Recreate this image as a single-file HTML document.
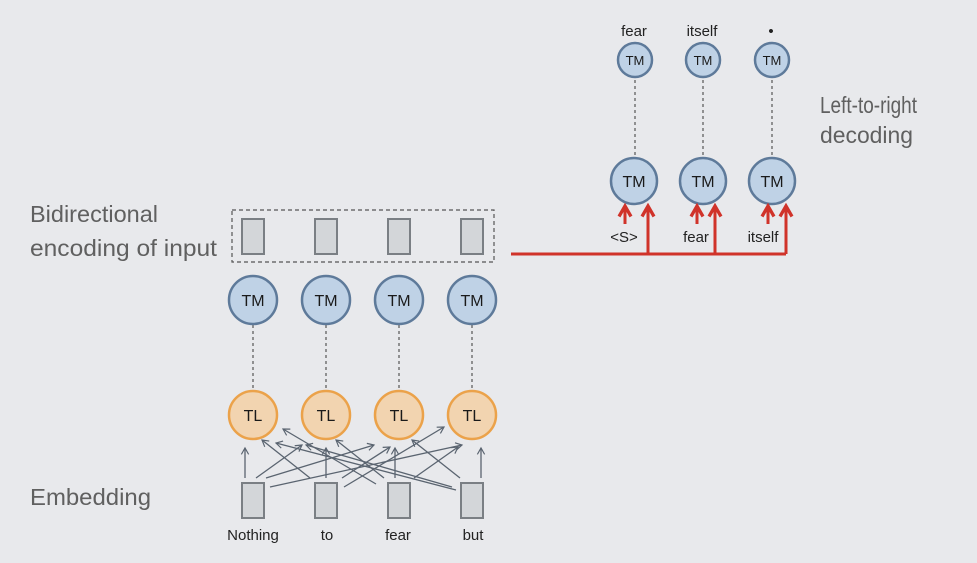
<!DOCTYPE html>
<html><head><meta charset="utf-8"><style>
html,body{margin:0;padding:0;background:#e8e9ec;}
svg{display:block;font-family:"Liberation Sans",sans-serif;}
</style></head><body>
<svg width="977" height="563" viewBox="0 0 977 563" xmlns="http://www.w3.org/2000/svg">
<defs>
<marker id="ag" viewBox="0 0 10 10" refX="8" refY="5" markerWidth="7" markerHeight="7" orient="auto-start-reverse">
<path d="M1,1 L8,5 L1,9" fill="none" stroke="#5a6470" stroke-width="1.3"/></marker>
<marker id="ar" viewBox="0 0 10 10" refX="8" refY="5" markerWidth="5" markerHeight="5" orient="auto-start-reverse">
<path d="M1,1 L8,5 L1,9" fill="none" stroke="#d0332a" stroke-width="2.2"/></marker>
</defs>
<rect width="977" height="563" fill="#e8e9ec"/>
<g font-size="23" fill="#606060">
<text x="30" y="222" textLength="128" lengthAdjust="spacingAndGlyphs">Bidirectional</text>
<text x="30" y="256" textLength="187" lengthAdjust="spacingAndGlyphs">encoding of input</text>
<text x="30" y="505" textLength="121" lengthAdjust="spacingAndGlyphs">Embedding</text>
<text x="820" y="113" textLength="97" lengthAdjust="spacingAndGlyphs">Left-to-right</text>
<text x="820" y="143" textLength="93" lengthAdjust="spacingAndGlyphs">decoding</text>
</g>
<rect x="232" y="210" width="262" height="52" fill="none" stroke="#555" stroke-width="1.2" stroke-dasharray="4,3"/>
<g fill="#d3d6d9" stroke="#7a7f84" stroke-width="2">
<rect x="242" y="219" width="22" height="35"/><rect x="315" y="219" width="22" height="35"/>
<rect x="388" y="219" width="22" height="35"/><rect x="461" y="219" width="22" height="35"/>
<rect x="242" y="483" width="22" height="35"/><rect x="315" y="483" width="22" height="35"/>
<rect x="388" y="483" width="22" height="35"/><rect x="461" y="483" width="22" height="35"/>
</g>
<g stroke="#555" stroke-width="1.2" stroke-dasharray="3,3">
<line x1="253" y1="325" x2="253" y2="390"/><line x1="326" y1="325" x2="326" y2="390"/>
<line x1="399" y1="325" x2="399" y2="390"/><line x1="472" y1="325" x2="472" y2="390"/>
<line x1="635" y1="80" x2="635" y2="155"/><line x1="703" y1="80" x2="703" y2="155"/><line x1="772" y1="80" x2="772" y2="155"/>
</g>
<g fill="#bfd2e6" stroke="#5e7a9a" stroke-width="2.5">
<circle cx="253" cy="300" r="24"/><circle cx="326" cy="300" r="24"/><circle cx="399" cy="300" r="24"/><circle cx="472" cy="300" r="24"/>
<circle cx="634" cy="181" r="23"/><circle cx="703" cy="181" r="23"/><circle cx="772" cy="181" r="23"/>
<circle cx="635" cy="60" r="17"/><circle cx="703" cy="60" r="17"/><circle cx="772" cy="60" r="17"/>
</g>
<g fill="#f2d4b0" stroke="#eba24a" stroke-width="2.5">
<circle cx="253" cy="415" r="24"/><circle cx="326" cy="415" r="24"/><circle cx="399" cy="415" r="24"/><circle cx="472" cy="415" r="24"/>
</g>
<g font-size="16" fill="#1a1a1a" text-anchor="middle">
<text x="253" y="306">TM</text><text x="326" y="306">TM</text><text x="399" y="306">TM</text><text x="472" y="306">TM</text>
<text x="634" y="187">TM</text><text x="703" y="187">TM</text><text x="772" y="187">TM</text>
<text x="253" y="421">TL</text><text x="326" y="421">TL</text><text x="399" y="421">TL</text><text x="472" y="421">TL</text>
</g>
<g font-size="13" fill="#1a1a1a" text-anchor="middle">
<text x="635" y="65">TM</text><text x="703" y="65">TM</text><text x="772" y="65">TM</text>
</g>
<g font-size="15" fill="#222" text-anchor="middle">
<text x="253" y="540">Nothing</text><text x="327" y="540">to</text><text x="398" y="540">fear</text><text x="473" y="540">but</text>
<text x="634" y="36">fear</text><text x="702" y="36">itself</text><text x="771" y="36">•</text>
<text x="624" y="242">&lt;S&gt;</text><text x="696" y="242">fear</text><text x="763" y="242">itself</text>
</g>
<g stroke="#5a6470" stroke-width="1.3" fill="none" marker-end="url(#ag)">
<line x1="245" y1="478" x2="245" y2="448"/><line x1="326" y1="478" x2="326" y2="448"/>
<line x1="395" y1="478" x2="395" y2="448"/><line x1="481" y1="478" x2="481" y2="448"/>
<line x1="256" y1="478" x2="302" y2="445"/><line x1="266" y1="478" x2="374" y2="445"/><line x1="270" y1="487" x2="462" y2="445"/>
<line x1="310" y1="478" x2="262" y2="440"/><line x1="342" y1="478" x2="390" y2="447"/><line x1="344" y1="487" x2="444" y2="427"/>
<line x1="384" y1="478" x2="336" y2="440"/><line x1="376" y1="484" x2="283" y2="429"/><line x1="414" y1="478" x2="458" y2="447"/>
<line x1="460" y1="478" x2="412" y2="440"/><line x1="452" y1="487" x2="306" y2="445"/><line x1="456" y1="490" x2="276" y2="443"/>
</g>
<g stroke="#d0332a" stroke-width="3" fill="none">
<polyline points="511,254 786,254"/>
<line x1="648" y1="254" x2="648" y2="206" marker-end="url(#ar)"/>
<line x1="715" y1="254" x2="715" y2="206" marker-end="url(#ar)"/>
<line x1="786" y1="254" x2="786" y2="206" marker-end="url(#ar)"/>
<line x1="625" y1="224" x2="625" y2="206" marker-end="url(#ar)"/>
<line x1="697" y1="224" x2="697" y2="206" marker-end="url(#ar)"/>
<line x1="768" y1="224" x2="768" y2="206" marker-end="url(#ar)"/>
</g>
</svg>
</body></html>
